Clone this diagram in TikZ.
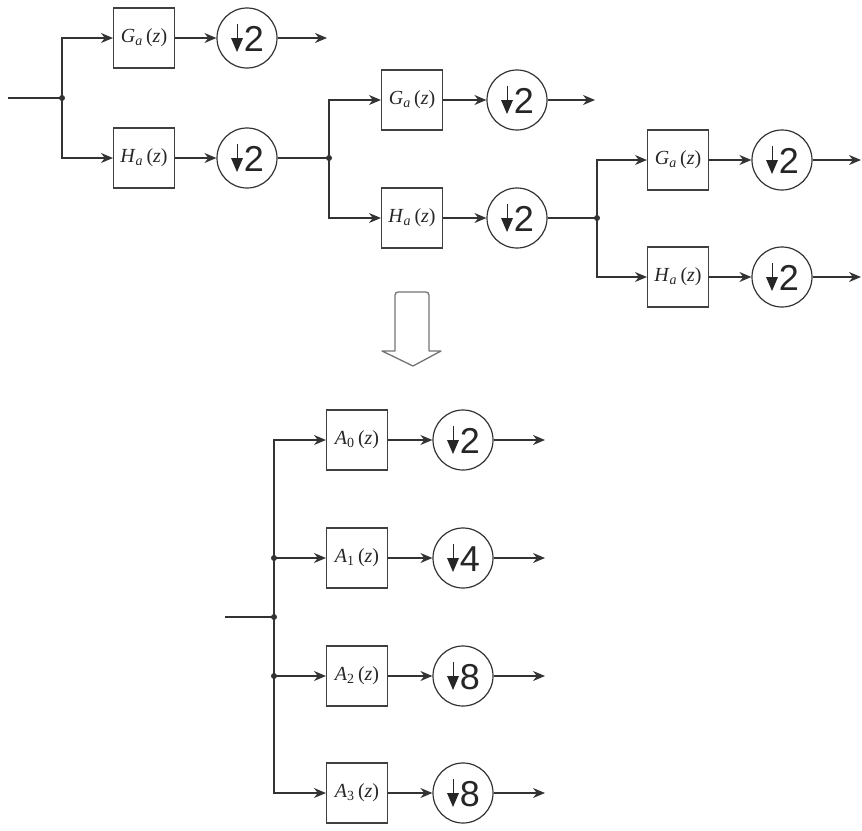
\documentclass[tikz,border=0pt]{standalone}
\usepackage{fontspec}
\newfontfamily\digitfont{Liberation Sans}
\newfontfamily\labfont{Liberation Serif}
\usetikzlibrary{arrows.meta}
\newcommand\flab[2]{{\labfont\textit{#1}\textsubscript{#2}\,(\textit{z})}}
\newcommand\decim[3]{%
  \node[dec] (#1) at (#2) {};
  \draw[black!85, line width=0.8pt] ([shift={(-10,-14)}]#1.center) -- ([shift={(-10,2)}]#1.center);
  \fill[black!85] ([shift={(-16,0)}]#1.center) -- ([shift={(-4,0)}]#1.center) -- ([shift={(-10,14)}]#1.center) -- cycle;
  \node[digit] (#1d) at ([shift={(7,1)}]#1.center) {#3};
}
\begin{document}
\begin{tikzpicture}[x=1pt,y=-1pt,
  wire/.style={draw=black!80, line width=1.3pt},
  sig/.style={wire, -{Stealth[length=12pt,width=10pt]}},
  filt/.style={draw=black!75, line width=1.1pt, minimum width=61pt, minimum height=60pt, inner sep=0pt, font=\fontsize{20}{20}\selectfont, text=black!85},
  dec/.style={circle, draw=black!80, line width=1.2pt, minimum size=60pt, inner sep=0pt},
  digit/.style={inner sep=0pt, font=\digitfont\fontsize{36}{36}\selectfont, text=black!85},
  jdot/.style={circle, fill=black!80, inner sep=0pt, minimum size=6pt},
  bigarrow/.style={draw=black!55, line width=1.3pt},
]
\useasboundingbox (0,0) rectangle (862,830);

% ---------- stage 1 ----------
\coordinate (in1) at (8,98);
\node[jdot] (s1) at (62,98) {};
\node[filt] (G1) at (144,38) {\flab{G}{\textit{a}}};
\node[filt] (H1) at (144,158) {\flab{H}{\textit{a}}};
\decim{DG1}{247,38}{2}
\decim{DH1}{247,158}{2}
\coordinate (oG1) at (327,38);
\draw[wire] (in1) -- (s1.center);
\draw[sig] (s1.center) |- (G1.west);
\draw[sig] (s1.center) |- (H1.west);
\draw[sig] (G1) -- (DG1);
\draw[sig] (H1) -- (DH1);
\draw[sig] (DG1) -- (oG1);

% ---------- stage 2 ----------
\node[jdot] (s2) at (329,158) {};
\node[filt] (G2) at (412,100) {\flab{G}{\textit{a}}};
\node[filt] (H2) at (412,218) {\flab{H}{\textit{a}}};
\decim{DG2}{517,100}{2}
\decim{DH2}{517,218}{2}
\coordinate (oG2) at (595,100);
\draw[wire] (DH1) -- (s2.center);
\draw[sig] (s2.center) |- (G2.west);
\draw[sig] (s2.center) |- (H2.west);
\draw[sig] (G2) -- (DG2);
\draw[sig] (H2) -- (DH2);
\draw[sig] (DG2) -- (oG2);

% ---------- stage 3 ----------
\node[jdot] (s3) at (597,218) {};
\node[filt] (G3) at (678,160) {\flab{G}{\textit{a}}};
\node[filt] (H3) at (678,277) {\flab{H}{\textit{a}}};
\decim{DG3}{782,160}{2}
\decim{DH3}{782,277}{2}
\coordinate (oG3) at (861,160);
\coordinate (oH3) at (861,277);
\draw[wire] (DH2) -- (s3.center);
\draw[sig] (s3.center) |- (G3.west);
\draw[sig] (s3.center) |- (H3.west);
\draw[sig] (G3) -- (DG3);
\draw[sig] (H3) -- (DH3);
\draw[sig] (DG3) -- (oG3);
\draw[sig] (DH3) -- (oH3);

% ---------- hollow arrow ----------
\draw[bigarrow, rounded corners=3pt] (395,351) -- (395,292) -- (429,292) -- (429,351);
\draw[bigarrow, line join=round] (395,351) -- (382,351) -- (413,366) -- (441,351) -- (429,351);

% ---------- equivalent structure ----------
\coordinate (inB) at (225,617);
\node[jdot] (jin) at (274,617) {};
\node[jdot] (jA1) at (274,558) {};
\node[jdot] (jA2) at (274,676) {};
\node[filt] (A0) at (357,440) {\flab{A}{0}};
\node[filt] (A1) at (357,558) {\flab{A}{1}};
\node[filt] (A2) at (357,676) {\flab{A}{2}};
\node[filt] (A3) at (357,793) {\flab{A}{3}};
\decim{D0}{463,440}{2}
\decim{D1}{463,558}{4}
\decim{D2}{463,676}{8}
\decim{D3}{463,793}{8}
\coordinate (o0) at (545,440);
\coordinate (o1) at (545,558);
\coordinate (o2) at (545,676);
\coordinate (o3) at (545,793);
\draw[wire] (inB) -- (jin.center);
\draw[sig] (jin.center) |- (A0.west);
\draw[sig] (jin.center) |- (A3.west);
\draw[sig] (jA1.center) -- (A1.west);
\draw[sig] (jA2.center) -- (A2.west);
\foreach \i in {0,1,2,3}{
  \draw[sig] (A\i) -- (D\i);
  \draw[sig] (D\i) -- (o\i);
}
\end{tikzpicture}
\end{document}
